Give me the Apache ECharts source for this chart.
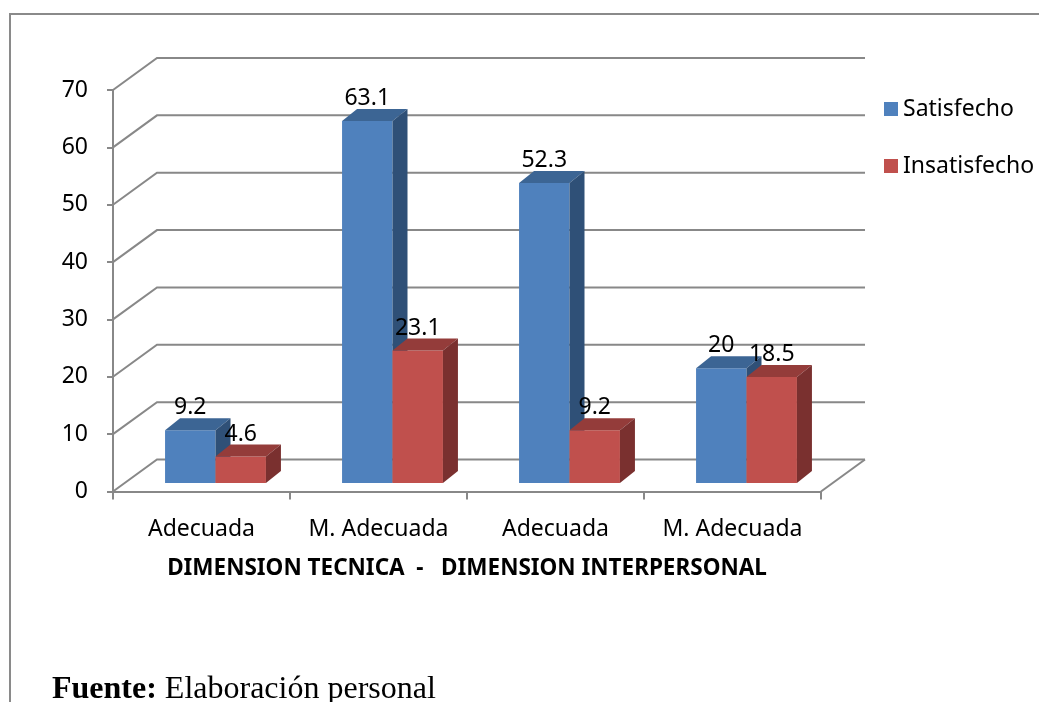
<!DOCTYPE html>
<html>
<head>
<meta charset="utf-8">
<script src="https://cdn.jsdelivr.net/npm/echarts@6/dist/echarts.min.js"></script>
<style>
  html, body { margin: 0; padding: 0; background: #fff; }
  #chart { width: 1039px; height: 702px; }
</style>
</head>
<body>
<div id="chart"></div>
<script>
const categories = ['Adecuada', 'M. Adecuada', 'Adecuada', 'M. Adecuada'];
const satisfecho = [9.2, 63.1, 52.3, 20];
const insatisfecho = [4.6, 23.1, 9.2, 18.5];
const yTicks = [0, 10, 20, 30, 40, 50, 60, 70];

const FONT = '"Noto Sans", sans-serif';
const WALL = [44, -32];   // depth of the back wall
const FRONT = [14, -8.5]; // front plane of the bars
const DEPTH = [15, -12];  // depth of one bar
const gridColor = '#888888';

const colors = {
  Satisfecho: { front: '#4F81BD', top: '#3C6594', side: '#2F5077' },
  Insatisfecho: { front: '#C0504D', top: '#943C3A', side: '#7A302F' }
};

function renderWall(params, api) {
  const v = api.value(1);
  const cs = params.coordSys;
  const y = api.coord([0, v])[1];
  const x0 = cs.x;
  const x1 = cs.x + cs.width;
  const children = [{
    type: 'polyline',
    shape: { points: [[x0, y], [x0 + WALL[0], y + WALL[1]], [x1 + WALL[0], y + WALL[1]]] },
    style: { stroke: gridColor, lineWidth: 2, fill: null }
  }];
  if (v === 0) {
    children.push({
      type: 'line',
      shape: { x1: x1, y1: y, x2: x1 + WALL[0], y2: y + WALL[1] },
      style: { stroke: gridColor, lineWidth: 2 }
    });
  }
  return { type: 'group', children };
}

function makeBar(name, side) {
  const c = colors[name];
  return function (params, api) {
    const cat = api.value(0);
    const v = api.value(1);
    const base = api.coord([cat, 0]);
    const top = api.coord([cat, v]);
    const w = api.size([1, 0])[0] * 0.285;
    const left = base[0] + FRONT[0] - (side === 0 ? w : 0);
    const right = left + w;
    const yb = base[1] + FRONT[1];
    const yt = top[1] + FRONT[1];
    return {
      type: 'group',
      children: [
        {
          type: 'rect',
          shape: { x: left, y: yt, width: w, height: yb - yt },
          style: { fill: c.front }
        },
        {
          type: 'polygon',
          shape: { points: [[left, yt], [left + DEPTH[0], yt + DEPTH[1]], [right + DEPTH[0], yt + DEPTH[1]], [right, yt]] },
          style: { fill: c.top }
        },
        {
          type: 'polygon',
          shape: { points: [[right, yt], [right + DEPTH[0], yt + DEPTH[1]], [right + DEPTH[0], yb + DEPTH[1]], [right, yb]] },
          style: { fill: c.side }
        },
        {
          type: 'text',
          z2: 10,
          style: {
            text: String(v),
            x: (left + right) / 2,
            y: yt + DEPTH[1] + 1,
            align: 'center',
            verticalAlign: 'bottom',
            fontSize: 23,
            fontFamily: FONT,
            fill: '#000'
          }
        }
      ]
    };
  };
}

const chart = echarts.init(document.getElementById('chart'));
chart.setOption({
  animation: false,
  backgroundColor: '#fff',
  grid: { left: 113, right: 218, top: 90, bottom: 210.5 },
  legend: {
    orient: 'vertical',
    left: 879,
    top: 91,
    icon: 'rect',
    itemWidth: 14,
    itemHeight: 14,
    itemGap: 31,
    textStyle: { fontSize: 23, fontFamily: FONT, color: '#000', lineHeight: 26 },
    data: ['Satisfecho', 'Insatisfecho']
  },
  xAxis: {
    type: 'category',
    data: categories,
    axisLine: { lineStyle: { color: gridColor, width: 2 } },
    axisTick: { show: true, length: 8, interval: 0, alignWithLabel: false, lineStyle: { color: gridColor, width: 2 } },
    axisLabel: { interval: 0, fontSize: 23, fontFamily: FONT, color: '#000', margin: 26 },
    name: 'DIMENSION TECNICA  -   DIMENSION INTERPERSONAL',
    nameLocation: 'middle',
    nameGap: 66,
    nameTextStyle: { fontSize: 22.5, fontWeight: 'bold', fontFamily: FONT, color: '#000' }
  },
  yAxis: {
    type: 'value',
    min: 0,
    max: 70,
    interval: 10,
    axisLine: { show: true, lineStyle: { color: gridColor, width: 2 } },
    axisTick: { show: true, length: 6, lineStyle: { color: gridColor, width: 2 } },
    axisLabel: { fontSize: 23, fontFamily: FONT, color: '#000', margin: 25 },
    splitLine: { show: false }
  },
  graphic: [
    {
      type: 'polyline',
      shape: { points: [[10, 702], [10, 14], [1039, 14]] },
      style: { stroke: '#8a8a8a', lineWidth: 2, fill: null }
    },
    {
      type: 'text',
      left: 52,
      top: 674,
      style: {
        text: '{b|Fuente:} Elaboración personal',
        fontSize: 32,
        fontFamily: '"Liberation Serif", serif',
        fill: '#000',
        rich: { b: { fontWeight: 'bold', fontSize: 32, fontFamily: '"Liberation Serif", serif' } }
      }
    }
  ],
  series: [
    {
      type: 'custom',
      name: 'wall',
      clip: false,
      silent: true,
      renderItem: renderWall,
      data: yTicks.map((v) => [0, v])
    },
    {
      type: 'custom',
      name: 'Satisfecho',
      clip: false,
      itemStyle: { color: colors.Satisfecho.front },
      renderItem: makeBar('Satisfecho', 0),
      encode: { x: 0, y: 1 },
      data: satisfecho.map((v, i) => [i, v])
    },
    {
      type: 'custom',
      name: 'Insatisfecho',
      clip: false,
      itemStyle: { color: colors.Insatisfecho.front },
      renderItem: makeBar('Insatisfecho', 1),
      encode: { x: 0, y: 1 },
      data: insatisfecho.map((v, i) => [i, v])
    }
  ]
});
</script>
</body>
</html>
